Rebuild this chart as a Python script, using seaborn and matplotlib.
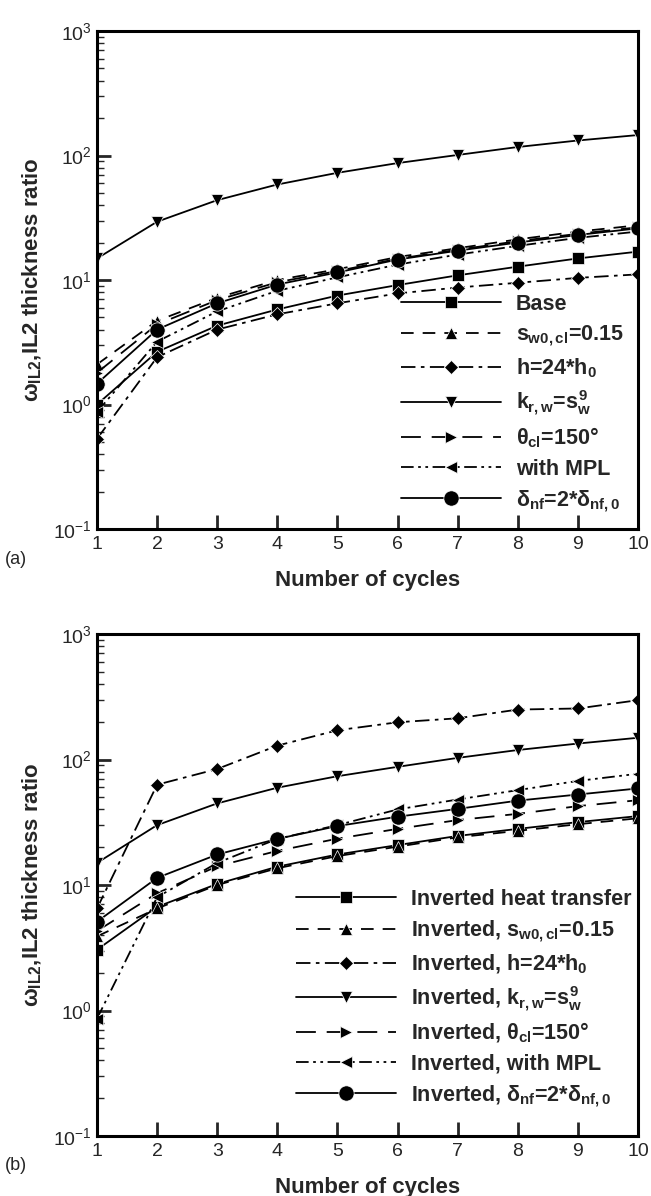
import numpy as np
import pandas as pd
import matplotlib
matplotlib.use("Agg")
import matplotlib.pyplot as plt
import seaborn as sns
from matplotlib.ticker import LogLocator, NullFormatter, FixedLocator

cycles = [1, 2, 3, 4, 5, 6, 7, 8, 9, 10]

# Panel (a)
base_a  = [1.0, 2.65, 4.3, 5.8, 7.5, 9.1, 10.9, 12.8, 14.9, 16.9]
sw0_a   = [2.1, 4.7, 7.2, 10.0, 12.2, 15.3, 18.0, 21.2, 24.5, 27.5]
h24_a   = [0.53, 2.4, 4.0, 5.3, 6.5, 7.8, 8.7, 9.5, 10.4, 11.1]
krw_a   = [14.9, 29.4, 43.8, 58.5, 72.6, 86.9, 101, 117, 132, 146]
theta_a = [1.8, 4.4, 6.9, 9.6, 11.8, 14.8, 17.5, 20.5, 23.5, 26.5]
mpl_a   = [0.87, 3.2, 5.6, 8.2, 10.5, 13.3, 16.0, 18.8, 21.8, 24.5]
delta_a = [1.47, 4.0, 6.5, 9.2, 11.5, 14.6, 17.2, 20.0, 23.0, 26.0]

# Panel (b)
base_b  = [3.05, 6.7, 10.2, 14.0, 17.5, 20.8, 24.6, 28.0, 31.7, 35.4]
sw0_b   = [3.9, 6.5, 10.0, 13.6, 17.0, 20.2, 24.0, 27.0, 30.5, 34.0]
h24_b   = [6.5, 63, 84, 129, 171, 198, 213, 250, 255, 297]
krw_b   = [15, 30, 44.7, 59.6, 73.6, 87.4, 103, 119, 134, 149]
theta_b = [4.3, 8.6, 14.1, 18.7, 23.4, 28.0, 32.9, 36.9, 42.5, 47.4]
mpl_b   = [0.86, 8.0, 15.0, 23.3, 30.0, 40.0, 48.0, 57.0, 67.5, 77.0]
delta_b = [5.1, 11.4, 17.5, 23.3, 29.5, 35.0, 40.4, 47.0, 52.6, 58.8]

labels_a = ["Base",
            r"$s_{w0,cl}$=0.15",
            r"h=24*$h_0$",
            r"$k_{r,w}$=$s_w^9$",
            r"$\theta_{cl}$=150°",
            "with MPL",
            r"$\delta_{nf}$=2*$\delta_{nf,0}$"]
labels_b = ["Inverted heat transfer",
            r"Inverted, $s_{w0,cl}$=0.15",
            r"Inverted, h=24*$h_0$",
            r"Inverted, $k_{r,w}$=$s_w^9$",
            r"Inverted, $\theta_{cl}$=150°",
            "Inverted, with MPL",
            r"Inverted, $\delta_{nf}$=2*$\delta_{nf,0}$"]

sns.set_style("ticks")
plt.rcParams["font.family"] = ["Liberation Sans", "DejaVu Sans"]
plt.rcParams["mathtext.fontset"] = "custom"
plt.rcParams["mathtext.rm"] = "Liberation Sans:bold"
plt.rcParams["mathtext.it"] = "Liberation Sans:bold"
plt.rcParams["mathtext.bf"] = "Liberation Sans:bold"

styles = [
    dict(marker="s", linestyle="-", markersize=8),
    dict(marker="^", linestyle=(0, (7, 5)), markersize=9),
    dict(marker="D", linestyle=(0, (8, 3, 2, 3)), markersize=7.5),
    dict(marker="v", linestyle="-", markersize=9),
    dict(marker=">", linestyle=(0, (11, 6)), markersize=9),
    dict(marker="<", linestyle=(0, (7, 2.5, 1.5, 2.5, 1.5, 2.5)), markersize=9),
    dict(marker="o", linestyle="-", markersize=11),
]

fig = plt.figure(figsize=(6.51, 11.96), dpi=100)
ax_a = fig.add_axes([97/651, 1-529/1196, (638-97)/651, (529-31)/1196])
ax_b = fig.add_axes([97/651, 1-1136/1196, (638-97)/651, (1136-634)/1196])


def draw(ax, series, labels, legend_anchor):
    for vals, lab, st in zip(series, labels, styles):
        df = pd.DataFrame({"cycle": cycles, "value": vals})
        sns.lineplot(data=df, x="cycle", y="value", ax=ax, color="black",
                     linewidth=1.3, markeredgewidth=0.5, label=lab, **st)
    ax.set_yscale("log")
    ax.set_xlim(1, 10)
    ax.set_ylim(0.1, 1000)
    ax.xaxis.set_major_locator(FixedLocator(cycles))
    ax.yaxis.set_major_locator(LogLocator(base=10, numticks=10))
    ax.yaxis.set_minor_locator(LogLocator(base=10, subs=np.arange(2, 10), numticks=20))
    ax.yaxis.set_minor_formatter(NullFormatter())
    ax.tick_params(axis="both", which="major", direction="in", length=10, width=2,
                   labelsize=14, top=False, right=False)
    ax.tick_params(axis="y", which="minor", direction="in", length=5, width=1,
                   right=False)
    ax.tick_params(axis="x", which="major", pad=5)
    for s in ax.spines.values():
        s.set_linewidth(2.2)
        s.set_color("black")
    ax.set_xlabel("Number of cycles", fontsize=16, fontweight="bold", labelpad=12)
    ax.set_ylabel(r"$\omega_{IL2}$,IL2 thickness ratio", fontsize=16,
                  fontweight="bold", labelpad=7)
    h, l = ax.get_legend_handles_labels()
    ax.legend(h, l, loc="upper left", bbox_to_anchor=legend_anchor,
              frameon=False, handlelength=4.65, numpoints=1,
              labelspacing=0.39, handletextpad=0.7, borderpad=0,
              borderaxespad=0, prop={"weight": "bold", "size": 15.5})


draw(ax_a, [base_a, sw0_a, h24_a, krw_a, theta_a, mpl_a, delta_a], labels_a, (0.561, 0.472))
draw(ax_b, [base_b, sw0_b, h24_b, krw_b, theta_b, mpl_b, delta_b], labels_b, (0.368, 0.492))

fig.text(5/651, 1-559/1196, "(a)", fontsize=13, va="center", ha="left")
fig.text(5/651, 1-1166/1196, "(b)", fontsize=13, va="center", ha="left")

fig.savefig("out.png", dpi=100)
